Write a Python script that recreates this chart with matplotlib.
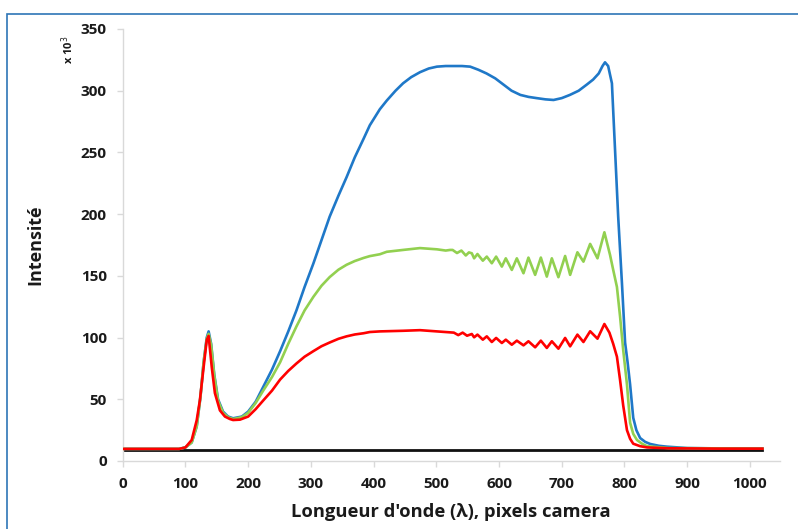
import matplotlib
matplotlib.use("Agg")
import matplotlib.pyplot as plt
from matplotlib.patches import Rectangle

# --------------------------------------------------
# Spectre : intensite vs pixel camera (valeurs x 10^3)
# --------------------------------------------------

blue_x = [0, 90, 100, 110, 118, 124, 129, 134, 137, 141, 146, 152, 160, 168, 176,
          190, 200, 212, 224, 238, 251, 264, 277, 290, 304, 317, 330, 344, 357,
          370, 384, 394, 410, 421, 435, 447, 460, 474, 488, 501, 515, 528, 541,
          554, 567, 580, 594, 607, 620, 634, 647, 660, 674, 687, 700, 713, 727,
          740, 750, 759, 765, 769, 774, 780, 785, 790, 796, 801, 805, 809, 814,
          819, 825, 833, 841, 855, 868, 900, 950, 1020]
blue_y = [9.8, 9.8, 11, 15, 28, 52, 80, 100, 105, 95, 70, 50, 40, 36, 34.6,
          36, 40, 48, 60, 74, 89, 105, 122, 141, 160, 179, 198, 215, 230,
          246, 261, 272, 285, 292, 300, 306, 311, 315, 318, 319.5, 320, 320, 320,
          319.5, 317, 314, 310, 305, 300, 296.6, 295, 294, 293, 292.5, 294, 296.6, 300,
          305, 309, 314, 320, 323, 320, 306, 252, 198, 144, 96, 80, 62, 35,
          25, 18.6, 15.5, 13.8, 12.3, 11.6, 10.5, 10.2, 10]

green_x = [0, 90, 100, 110, 118, 124, 129, 134, 137, 141, 146, 152, 160, 168, 176,
           190, 200, 212, 224, 238, 251, 264, 277, 290, 304, 317, 330, 344, 357,
           370, 384, 394, 410, 421, 447, 474, 501, 515, 522, 526, 533, 540, 547,
           552, 556.6, 560.3, 565.6, 574.2, 580.5, 588.5, 595.4, 604.5, 610.8,
           620.4, 628.4, 639, 646.9, 657.6, 666.7, 676.2, 684.2, 694.7, 705.4,
           713.4, 725, 734.6, 745.3, 757, 768, 777, 782, 788, 793, 798, 804, 809,
           814, 820, 828, 836, 870, 950, 1020]
green_y = [9.8, 9.8, 11, 15, 28, 52, 80, 99, 103, 94, 69, 49, 39, 35.5, 34,
           35.5, 39, 47, 57, 68, 80, 95, 109, 122, 133, 142, 149, 155, 159,
           162, 164.5, 166, 167.5, 169.5, 171, 172.5, 171.5, 170.5, 171, 171, 168.5, 170.5, 166.5,
           169, 168.3, 164.2, 167.7, 162.3, 165.6, 160.2, 165.6, 157.5, 164.2,
           154.8, 164.2, 152.1, 164.8, 150.8, 164.8, 149.4, 164.2, 148.9, 166.1,
           150.8, 169.1, 161.5, 175.9, 164.2, 185.3, 167, 155, 141, 117, 90, 62, 31,
           22, 17, 14, 12, 10.5, 10.2, 10]

red_x = [0, 90, 100, 110, 118, 123, 129, 134, 137, 142, 147, 155, 163, 171, 176,
         187, 200, 212, 224, 238, 251, 264, 277, 290, 304, 317, 330, 344, 357,
         370, 384, 394, 410, 447, 474, 501, 528, 535, 542, 549, 556.6, 560.3,
         565.6, 574.2, 580.5, 588.5, 595.4, 604.5, 610.8, 620.4, 628.4, 639,
         646.9, 657.6, 666.7, 676.2, 684.2, 694.7, 705.4, 713.4, 725, 734.6,
         745.3, 757, 768, 776, 782, 788, 793, 798, 804, 809, 814, 825, 836,
         870, 950, 1020]
red_y = [9.8, 9.8, 11, 17, 33, 49, 76, 98, 101.3, 76, 55, 41, 36, 34, 33.2,
         33.5, 36, 42, 49, 57, 66, 73, 79, 84.5, 89, 93, 96, 99, 101,
         102.5, 103.5, 104.5, 105, 105.5, 106, 105, 104, 102, 104, 101.5, 102.9, 100.2,
         102.4, 98.3, 101, 96.4, 99.7, 95.6, 98.3, 94.2, 97.5, 93.7,
         97, 92.1, 97.5, 91.6, 97, 91, 99.7, 92.9, 102.4, 96.4,
         105.1, 99.1, 111, 104, 95, 84.5, 65.6, 45, 25, 18, 14, 12, 11,
         10.3, 10, 10]

black_x = [0, 1020]
black_y = [9, 9]

x_ticks = [0, 100, 200, 300, 400, 500, 600, 700, 800, 900, 1000]
y_ticks = [0, 50, 100, 150, 200, 250, 300, 350]

# --------------------------------------------------
# Plot
# --------------------------------------------------

plt.rcParams["font.family"] = ["Open Sans", "DejaVu Sans"]

W, H = 798, 529
fig = plt.figure(figsize=(W / 100, H / 100), dpi=100)

# blue frame around the chart area
fig.patches.append(Rectangle((7 / W, -0.05), 1.0, 1 - 14 / H + 0.05,
                             transform=fig.transFigure, fill=False,
                             edgecolor="#2e75b6", linewidth=1.2))

ax = fig.add_axes([122.7 / W, 68 / H, (780 - 122.7) / W, (461 - 29) / H])

ax.plot(black_x, black_y, color="#111111", linewidth=2.0, zorder=1)
ax.plot(blue_x, blue_y, color="#1f78c8", linewidth=1.9, zorder=2)
ax.plot(green_x, green_y, color="#92d050", linewidth=1.9, zorder=3)
ax.plot(red_x, red_y, color="#ff0000", linewidth=1.9, zorder=4)

ax.set_xlim(0, 1048)
ax.set_ylim(0, 350)
ax.set_xticks(x_ticks)
ax.set_yticks(y_ticks)

for s in ["top", "right"]:
    ax.spines[s].set_visible(False)
for s in ["left", "bottom"]:
    ax.spines[s].set_color("#d9d9d9")
    ax.spines[s].set_linewidth(1.0)

ax.tick_params(axis="both", direction="out", length=4.5, width=1.0,
               color="#d9d9d9", labelsize=11, pad=7, labelcolor="#1a1a1a")
for lbl in ax.get_xticklabels() + ax.get_yticklabels():
    lbl.set_fontweight("bold")

fig.text(451 / W, 1 - 512 / H, "Longueur d'onde (\u03bb), pixels camera",
         ha="center", va="center", fontsize=13.2, fontweight="bold",
         color="#1a1a1a")
fig.text(35 / W, 1 - 245 / H, "Intensit\u00e9", rotation=90,
         ha="center", va="center", fontsize=13, fontweight="bold",
         color="#1a1a1a")
fig.text(68 / W, 1 - 50 / H, "x 10$^3$", rotation=90,
         ha="center", va="center", fontsize=8, fontweight="bold",
         color="#1a1a1a")

fig.savefig("out.png", dpi=100)
